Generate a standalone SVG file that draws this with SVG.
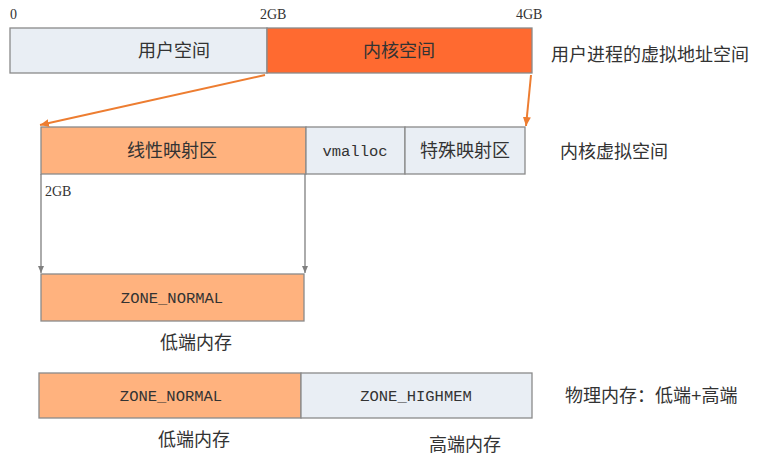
<svg xmlns="http://www.w3.org/2000/svg" width="757" height="461" viewBox="0 0 757 461">
<style>
.box{stroke:#8a8a8a;stroke-width:1.3}
.light{fill:#e9eef4}
.peach{fill:#ffb27e}
.hot{fill:#ff6a30}
.cn{font-family:"Liberation Sans","Noto Sans CJK SC",sans-serif;font-size:18px;fill:#333}
.num{font-family:"Liberation Serif","Noto Sans CJK SC",serif;font-size:14px;fill:#333}
.mono{font-family:"Liberation Mono","Noto Sans CJK SC",monospace;font-size:15.5px;fill:#333}
.oarr{stroke:#ed7d31;stroke-width:2;fill:none}
.garr{stroke:#7f7f7f;stroke-width:1.3;fill:none}
</style>
<defs>
<marker id="mo" markerWidth="10" markerHeight="10" refX="9" refY="5" orient="auto" markerUnits="userSpaceOnUse">
<path d="M0,1 L9,5 L0,9 Z" fill="#ed7d31"/>
</marker>
<marker id="mg" markerWidth="8" markerHeight="8" refX="7" refY="4" orient="auto" markerUnits="userSpaceOnUse">
<path d="M0,1 L7,4 L0,7 Z" fill="#7f7f7f"/>
</marker>
</defs>
<rect width="757" height="461" fill="#fff"/>
<g id="top-labels">
<text class="num" x="10" y="19">0</text>
<text class="num" x="260" y="19">2GB</text>
<text class="num" x="516" y="19">4GB</text>
</g>
<g id="user-space">
<rect class="box light" x="10" y="28" width="257" height="45"/>
<text class="cn" x="174" y="57" text-anchor="middle">用户空间</text>
</g>
<g id="kernel-space">
<rect class="box hot" x="267" y="28" width="265" height="45"/>
<text class="cn" x="399" y="57" text-anchor="middle">内核空间</text>
</g>
<text class="cn" x="551" y="61">用户进程的虚拟地址空间</text>
<g id="linear-map">
<rect class="box peach" x="41" y="127" width="265" height="47"/>
<text class="cn" x="172" y="157" text-anchor="middle">线性映射区</text>
</g>
<g id="vmalloc">
<rect class="box light" x="306" y="127" width="99" height="47"/>
<text class="mono" x="355" y="156" text-anchor="middle">vmalloc</text>
</g>
<g id="special-map">
<rect class="box light" x="405" y="127" width="120" height="47"/>
<text class="cn" x="465" y="157" text-anchor="middle">特殊映射区</text>
</g>
<text class="cn" x="560" y="158">内核虚拟空间</text>
<text class="num" x="45" y="196">2GB</text>
<g id="zone-normal-1">
<rect class="box peach" x="41" y="274" width="263" height="47"/>
<text class="mono" x="172" y="303" text-anchor="middle">ZONE_NORMAL</text>
</g>
<text class="cn" x="196" y="349" text-anchor="middle">低端内存</text>
<g id="zone-normal-2">
<rect class="box peach" x="39" y="373" width="262" height="45"/>
<text class="mono" x="171" y="401" text-anchor="middle">ZONE_NORMAL</text>
</g>
<g id="zone-highmem">
<rect class="box light" x="301" y="373" width="231" height="45"/>
<text class="mono" x="416" y="401" text-anchor="middle">ZONE_HIGHMEM</text>
</g>
<text class="cn" x="194" y="446" text-anchor="middle">低端内存</text>
<text class="cn" x="465" y="451" text-anchor="middle">高端内存</text>
<text class="cn" x="565" y="402">物理内存：低端+高端</text>
<g id="connectors">
<line class="oarr" x1="265" y1="75" x2="40" y2="125" marker-end="url(#mo)"/>
<line class="oarr" x1="531" y1="75" x2="526" y2="126" marker-end="url(#mo)"/>
<line class="garr" x1="41" y1="174" x2="41" y2="273" marker-end="url(#mg)"/>
<line class="garr" x1="305" y1="174" x2="305" y2="273" marker-end="url(#mg)"/>
</g>
</svg>
